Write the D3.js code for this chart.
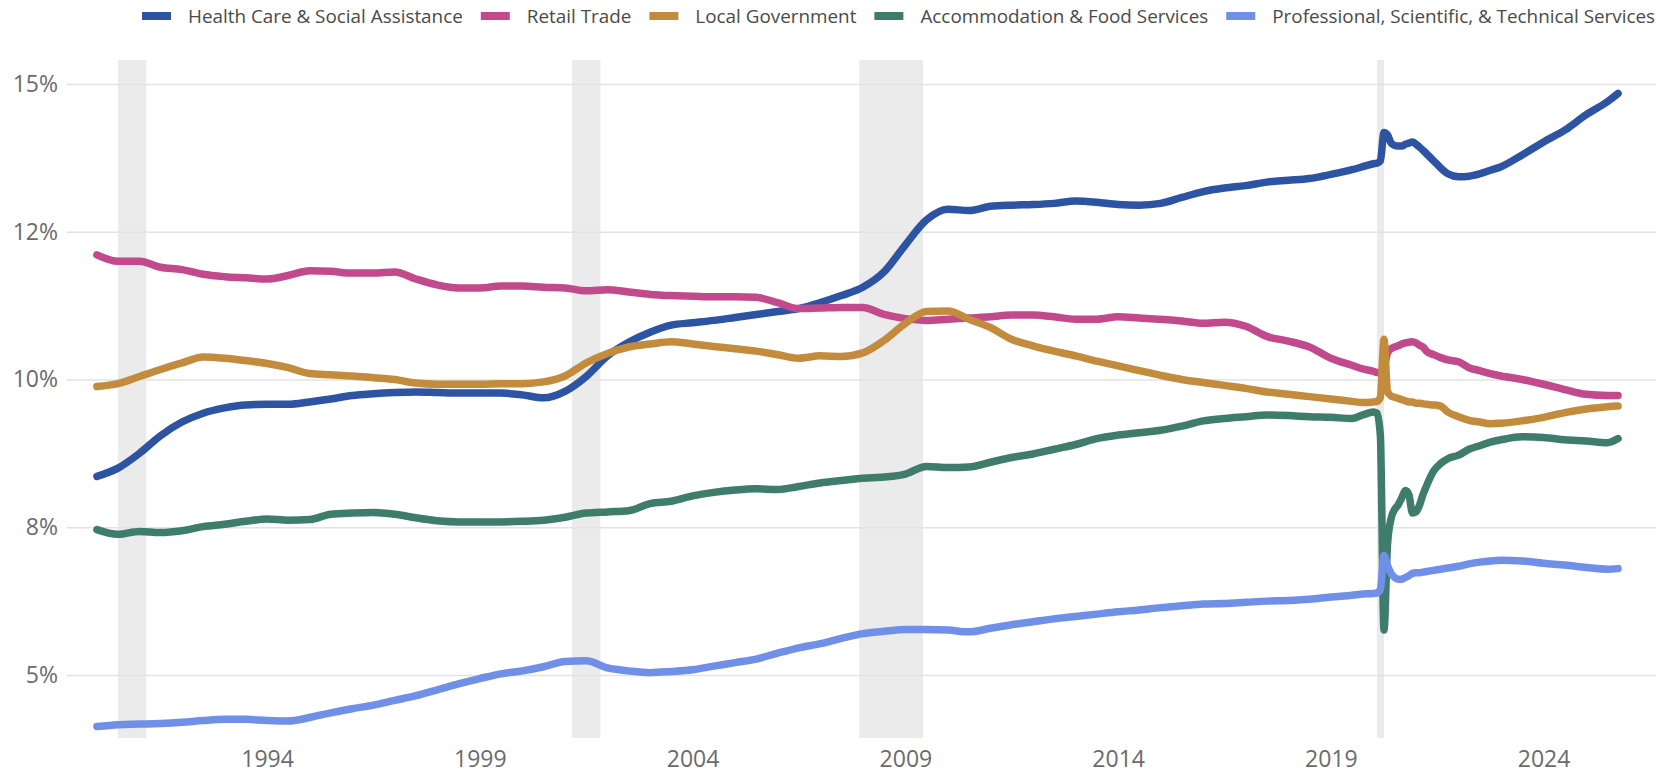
<!DOCTYPE html>
<html><head><meta charset="utf-8">
<script src="https://cdn.jsdelivr.net/npm/d3@7"></script>
<style>
html,body{margin:0;padding:0;background:#fff;}
svg{display:block;font-family:"Open Sans",sans-serif;}
</style></head>
<body><svg id="chart" width="1669" height="775"></svg>
<script>
const months = [
"1990-01","1990-07","1991-01","1991-07","1992-01","1992-07","1993-01","1993-07","1994-01","1994-07",
"1995-01","1995-07","1996-01","1996-07","1997-01","1997-07","1998-01","1998-07","1999-01","1999-07",
"2000-01","2000-07","2001-01","2001-07","2002-01","2002-07","2003-01","2003-07","2004-01","2004-07",
"2005-01","2005-07","2006-01","2006-07","2007-01","2007-07","2008-01","2008-07","2009-01","2009-07",
"2010-01","2010-07","2011-01","2011-07","2012-01","2012-07","2013-01","2013-07","2014-01","2014-07",
"2015-01","2015-07","2016-01","2016-07","2017-01","2017-07","2018-01","2018-07","2019-01","2019-07",
"2019-10","2020-01","2020-02","2020-03","2020-04","2020-05","2020-06","2020-07","2020-08","2020-09",
"2020-10","2020-11","2020-12","2021-01","2021-02","2021-03","2021-04","2021-06","2021-08","2021-10",
"2022-01","2022-04","2022-07","2022-10","2023-01","2023-07","2024-01","2024-07","2025-01","2025-07","2025-10"];

const healthCare = [
8.36,8.50,8.75,9.05,9.28,9.43,9.52,9.57,9.58,9.58,
9.62,9.67,9.73,9.76,9.78,9.79,9.78,9.77,9.77,9.77,
9.74,9.69,9.80,10.05,10.40,10.63,10.80,10.92,10.96,11.00,
11.05,11.10,11.15,11.20,11.30,11.42,11.56,11.82,12.28,12.70,
12.88,12.86,12.93,12.95,12.96,12.98,13.02,13.00,12.96,12.95,
12.98,13.08,13.18,13.24,13.28,13.34,13.37,13.40,13.47,13.55,
13.60,13.65,13.66,13.70,14.18,14.14,14.00,13.96,13.95,13.95,
13.98,14.00,14.02,13.98,13.93,13.88,13.82,13.70,13.58,13.48,
13.43,13.44,13.48,13.54,13.60,13.80,14.02,14.22,14.48,14.70,14.84];

const retailTrade = [
12.11,12.00,12.00,11.90,11.86,11.78,11.74,11.72,11.70,11.76,
11.84,11.83,11.80,11.80,11.82,11.70,11.60,11.55,11.55,11.58,
11.58,11.56,11.55,11.50,11.52,11.48,11.44,11.42,11.41,11.40,
11.40,11.39,11.30,11.20,11.21,11.22,11.22,11.10,11.03,11.00,
11.02,11.04,11.06,11.09,11.09,11.06,11.02,11.02,11.06,11.04,
11.02,10.99,10.95,10.97,10.90,10.73,10.65,10.55,10.36,10.24,
10.18,10.14,10.12,10.12,10.20,10.45,10.52,10.55,10.57,10.60,
10.62,10.63,10.64,10.62,10.58,10.55,10.48,10.42,10.37,10.33,
10.30,10.20,10.15,10.10,10.06,10.00,9.92,9.83,9.75,9.73,9.73];

const localGovernment = [
9.88,9.93,10.05,10.17,10.28,10.38,10.36,10.32,10.27,10.20,
10.10,10.08,10.06,10.03,10.00,9.94,9.92,9.92,9.92,9.93,
9.93,9.96,10.06,10.28,10.44,10.55,10.60,10.64,10.60,10.56,
10.52,10.48,10.42,10.36,10.40,10.39,10.45,10.66,10.95,11.15,
11.16,11.02,10.88,10.68,10.57,10.48,10.40,10.31,10.23,10.15,
10.07,10.00,9.95,9.90,9.85,9.79,9.75,9.71,9.67,9.63,
9.61,9.62,9.63,9.70,10.68,9.80,9.72,9.70,9.68,9.66,
9.64,9.62,9.62,9.60,9.60,9.59,9.58,9.57,9.55,9.45,
9.37,9.31,9.28,9.25,9.26,9.30,9.36,9.44,9.50,9.54,9.55];

const accommodationFood = [
7.46,7.38,7.43,7.41,7.44,7.51,7.55,7.60,7.64,7.62,
7.63,7.72,7.74,7.75,7.72,7.66,7.61,7.59,7.59,7.59,
7.60,7.62,7.67,7.74,7.76,7.78,7.90,7.94,8.03,8.09,
8.13,8.15,8.14,8.19,8.25,8.29,8.33,8.35,8.40,8.53,
8.51,8.52,8.60,8.68,8.74,8.82,8.90,9.00,9.06,9.10,
9.14,9.21,9.30,9.34,9.37,9.40,9.39,9.37,9.36,9.34,
9.40,9.45,9.43,9.05,5.76,7.20,7.65,7.80,7.88,8.00,
8.12,8.05,7.74,7.76,7.88,8.05,8.20,8.45,8.58,8.66,
8.72,8.82,8.88,8.94,8.98,9.03,9.02,8.98,8.96,8.93,9.00];

const professional = [
4.13,4.16,4.17,4.18,4.20,4.23,4.25,4.25,4.23,4.22,
4.28,4.36,4.43,4.49,4.57,4.65,4.75,4.85,4.94,5.02,
5.07,5.14,5.23,5.24,5.12,5.07,5.04,5.06,5.09,5.15,
5.21,5.27,5.37,5.46,5.53,5.62,5.70,5.74,5.77,5.77,
5.76,5.73,5.79,5.85,5.90,5.95,5.99,6.03,6.07,6.10,
6.14,6.17,6.20,6.21,6.23,6.25,6.26,6.28,6.32,6.35,
6.37,6.38,6.39,6.45,7.02,6.85,6.72,6.65,6.62,6.62,
6.65,6.68,6.72,6.73,6.73,6.74,6.75,6.77,6.79,6.81,
6.84,6.88,6.91,6.93,6.94,6.93,6.89,6.86,6.82,6.79,6.80];

const seriesNames = ["Health Care & Social Assistance","Retail Trade","Local Government","Accommodation & Food Services","Professional, Scientific, & Technical Services"];
const seriesValues = [healthCare, retailTrade, localGovernment, accommodationFood, professional];
const seriesColors = ["#2d53a3","#c2498b","#c28c3c","#3e7d6b","#6f8fe8"];

const recessionStarts = ["1990-07","2001-03","2007-12","2020-02"];
const recessionEnds   = ["1991-03","2001-11","2009-06","2020-04"];

const yTickValues = [5, 7.5, 10, 12.5, 15];
const yTickLabels = ["5%","8%","10%","12%","15%"];
const xTickYears = ["1994","1999","2004","2009","2014","2019","2024"];

// ---- layout ----
const svg = d3.select("#chart");
const parseM = d3.timeParse("%Y-%m");
const parseY = d3.timeParse("%Y");
const dates = months.map(parseM);

const plotTop = 60, plotBottom = 738, gridLeft = 67, gridRight = 1656;

const x = d3.scaleTime()
  .domain([parseM("1990-07"), parseM("2020-02")])
  .range([118, 1377]);
const y = d3.scaleLinear().domain([5, 15]).range([675, 84]);

// recession bands
svg.append("g").selectAll("rect")
  .data(recessionStarts.map((s,i)=>({s:parseM(s), e:parseM(recessionEnds[i])})))
  .join("rect")
  .attr("x", d=>x(d.s)).attr("width", d=>Math.max(1, x(d.e)-x(d.s)))
  .attr("y", plotTop).attr("height", plotBottom-plotTop)
  .attr("fill", "#ebebeb");

// y axis + grid
const yAxis = svg.append("g").attr("transform", `translate(${gridLeft},0)`)
  .call(d3.axisLeft(y).tickValues(yTickValues)
    .tickFormat((d,i)=>yTickLabels[i])
    .tickSize(-(gridRight-gridLeft)).tickPadding(9));
yAxis.select(".domain").remove();
yAxis.selectAll(".tick line").attr("stroke","#e3e3e3").attr("stroke-width",1.3);
yAxis.selectAll(".tick text").attr("fill","#6b6b6b").style("font-size","23px")
  .style("font-family","'Open Sans',sans-serif");

// x axis
const xAxis = svg.append("g").attr("transform", `translate(0,767)`)
  .call(d3.axisBottom(x).tickValues(xTickYears.map(parseY))
    .tickFormat(d3.timeFormat("%Y")).tickSize(0).tickPadding(0));
xAxis.select(".domain").remove();
xAxis.selectAll(".tick text").attr("fill","#6b6b6b").attr("dy","0")
  .style("font-size","23px")
  .style("font-family","'Open Sans',sans-serif");

// lines
const line = d3.line()
  .x((d,i)=>x(dates[i]))
  .y(d=>y(d))
  .curve(d3.curveMonotoneX);

svg.append("g").selectAll("path")
  .data(seriesValues)
  .join("path")
  .attr("d", d=>line(d))
  .attr("fill","none")
  .attr("stroke",(d,i)=>seriesColors[i])
  .attr("stroke-width",7.5)
  .attr("stroke-linejoin","round")
  .attr("stroke-linecap","round");

// legend
const legend = svg.append("g");
const baseFont = 17;
const items = legend.selectAll("g").data(seriesNames).join("g");
items.append("rect").attr("width",29).attr("height",8)
  .attr("fill",(d,i)=>seriesColors[i]);
const texts = items.append("text").text(d=>d)
  .attr("fill","#4a4a4a")
  .style("font-size", baseFont+"px")
  .style("font-family","'Open Sans',sans-serif")
  .attr("dominant-baseline","central");
let total = 0;
texts.each(function(){ total += this.getComputedTextLength(); });
const k = 1212 / total;
const fs = baseFont * k;
texts.style("font-size", fs+"px");
let cx = 142;
items.each(function(d,i){
  const g = d3.select(this);
  const t = g.select("text");
  const w = t.node().getComputedTextLength();
  g.select("rect").attr("x", cx).attr("y", 12);
  t.attr("x", cx+46).attr("y", 16);
  cx += 46 + w + 18;
});
</script>
</body></html>
